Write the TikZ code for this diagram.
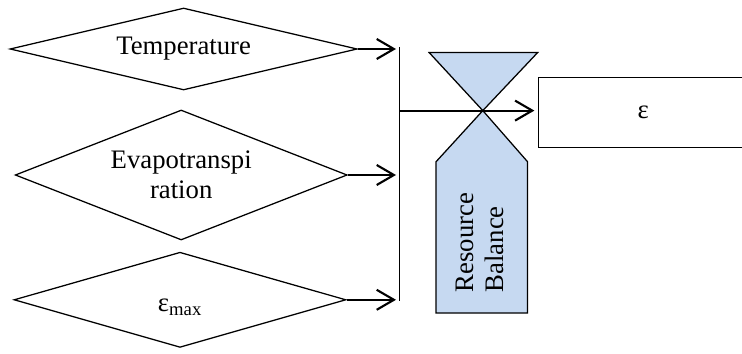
\documentclass[tikz,border=0pt]{standalone}
\usepackage{fontspec}
\setmainfont{Liberation Serif}
\usetikzlibrary{shapes.geometric,arrows.meta}
\definecolor{hgblue}{HTML}{C6D9F1}

\begin{document}
\begin{tikzpicture}[
  factor/.style={diamond,draw=black,line width=0.9pt,inner sep=0pt,align=center},
  flow/.style={black,line width=1.5pt,-{Straight Barb[length=0.43cm,width=0.5cm]}},
  font=\fontsize{19}{21.5}\selectfont]
% Page area
\clip (0,0) rectangle (18.55,8.825);
% Input factors (diamonds)
\node[factor,aspect=4.23,minimum width=8.68cm,minimum height=2.05cm] (temp) at (4.59,7.6) {Temperature};
\node[factor,aspect=2.55,minimum width=8.3cm,minimum height=3.25cm] (evap) at (4.53,4.45) {Evapotranspi\\ration};
\node[factor,aspect=3.49,minimum width=8.3cm,minimum height=2.38cm] (emax) at (4.5,1.33) {};
\node (emaxtext) at (4.5,1.14) {ε\textsubscript{max}};
% Collecting line
\coordinate (bustop) at (9.98,7.65);
\coordinate (busbot) at (9.98,1.3);
\coordinate (tipcol) at (9.9,0);
\coordinate (junction) at (9.98,6.06);
\draw[black,line width=0.9pt] (bustop)--(busbot);
% Arrows into the line
\draw[flow] (temp.east)--(temp.east -| tipcol);
\draw[flow] (evap.east)--(evap.east -| tipcol);
\draw[flow] (emax.east)--(emax.east -| tipcol);
% Hourglass (resource balance)
\filldraw[fill=hgblue,draw=black,line width=0.9pt] (10.73,7.51)--(13.44,7.51)--(12.07,6.06)--cycle;
\filldraw[fill=hgblue,draw=black,line width=0.9pt] (12.07,6.06)--(13.19,4.78)--(13.19,1.0)--(10.9,1.0)--(10.9,4.78)--cycle;
\node[rotate=90,align=left,inner sep=0pt] (balance) at (12.0,2.76) {Resource\\Balance};
% Output
\node[draw=black,line width=0.9pt,minimum width=5.25cm,minimum height=1.75cm] (eps) at (16.08,6.01) {ε};
\draw[flow,shorten >=0.08cm] (junction)--(junction -| eps.west);
\end{tikzpicture}
\end{document}
